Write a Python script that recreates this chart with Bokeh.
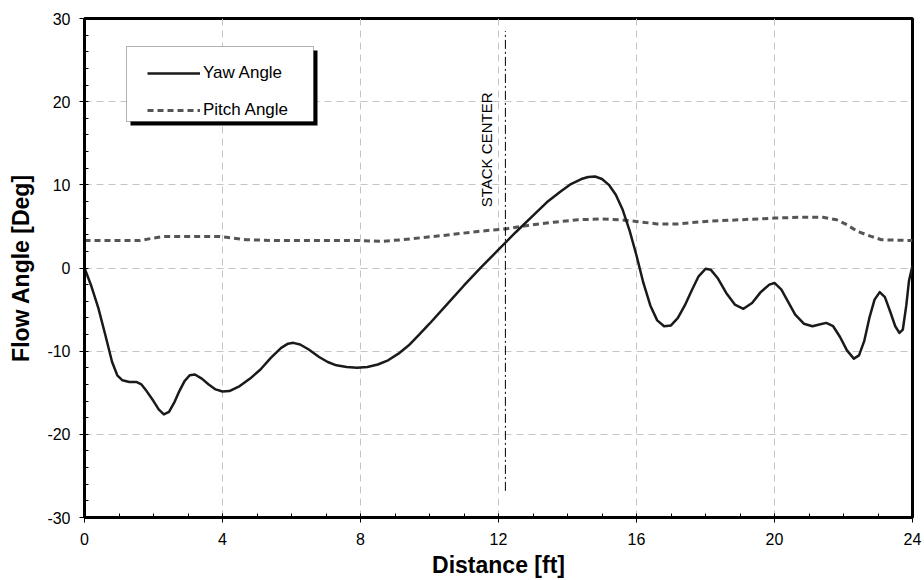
from bokeh.plotting import figure
from bokeh.models import (Range1d, SingleIntervalTicker, Legend, LegendItem,
                          BoxAnnotation, CustomJSTickFormatter)
from bokeh.embed import file_html
from bokeh.resources import INLINE
from bokeh.core.properties import value

# ---------------- data ----------------
yaw_x = [0.0, 0.2, 0.4, 0.6, 0.8, 0.95, 1.1, 1.3, 1.5, 1.65, 1.8, 2.0, 2.15,
         2.3, 2.45, 2.6, 2.75, 2.9, 3.05, 3.2, 3.4, 3.6, 3.8, 4.0, 4.2, 4.5,
         4.8, 5.1, 5.4, 5.7, 5.9, 6.05, 6.25, 6.5, 6.8, 7.05, 7.3, 7.6, 7.9,
         8.2, 8.5, 8.8, 9.1, 9.4, 9.7, 10.0, 10.5, 11.0, 11.5, 12.0, 12.5,
         13.0, 13.4, 13.8, 14.1, 14.4, 14.6, 14.8, 15.0, 15.2, 15.4, 15.6,
         15.8, 16.0, 16.2, 16.4, 16.6, 16.8, 17.0, 17.2, 17.4, 17.6, 17.8,
         18.0, 18.15, 18.35, 18.6, 18.85, 19.1, 19.35, 19.6, 19.85, 20.0,
         20.2, 20.4, 20.6, 20.85, 21.1, 21.3, 21.5, 21.7, 21.9, 22.1, 22.3,
         22.45, 22.6, 22.75, 22.9, 23.05, 23.2, 23.35, 23.5, 23.62, 23.72,
         23.82, 23.9, 24.0]
yaw_angle = [0.0, -2.2, -4.8, -8.0, -11.3, -12.9, -13.5, -13.7, -13.7, -14.0,
             -14.8, -16.0, -17.0, -17.6, -17.3, -16.2, -14.8, -13.6, -12.9,
             -12.8, -13.3, -14.0, -14.6, -14.85, -14.8, -14.2, -13.3, -12.2,
             -10.8, -9.6, -9.1, -9.0, -9.2, -9.8, -10.7, -11.3, -11.7, -11.9,
             -12.0, -11.9, -11.6, -11.1, -10.3, -9.3, -8.0, -6.7, -4.4, -2.1,
             0.1, 2.2, 4.3, 6.3, 7.9, 9.2, 10.1, 10.7, 10.95, 11.0, 10.7, 10.0,
             8.8, 7.0, 4.5, 1.5, -1.8, -4.5, -6.3, -7.0, -6.9, -6.0, -4.5,
             -2.7, -1.0, -0.1, -0.2, -1.2, -3.0, -4.4, -4.9, -4.2, -2.9, -2.0,
             -1.8, -2.6, -4.1, -5.6, -6.7, -7.0, -6.8, -6.6, -7.0, -8.3, -9.9,
             -10.9, -10.5, -8.8, -6.0, -3.8, -2.9, -3.5, -5.2, -7.0, -7.8,
             -7.4, -4.5, -1.5, 0.3]

pitch_x = [0, 1.0, 1.6, 2.0, 2.3, 3.0, 3.9, 4.3, 4.7, 5.5, 6.5, 7.5, 8.0, 8.6,
           9.2, 9.9, 10.6, 11.4, 12.2, 13.0, 13.6, 14.3, 15.0, 15.5, 16.0, 16.6,
           17.2, 18.0, 19.0, 20.0, 20.7, 21.4, 21.8, 22.1, 22.4, 22.8, 23.1, 24.0]
pitch_angle = [3.3, 3.3, 3.3, 3.6, 3.8, 3.8, 3.8, 3.6, 3.4, 3.3, 3.3, 3.3, 3.3,
               3.2, 3.4, 3.7, 4.0, 4.4, 4.7, 5.2, 5.5, 5.8, 5.9, 5.8, 5.6, 5.3,
               5.3, 5.6, 5.8, 6.0, 6.1, 6.1, 5.8, 5.2, 4.4, 3.8, 3.4, 3.3]

stack_center = 12.2
stack_label = "STACK CENTER"
series_names = ["Yaw Angle", "Pitch Angle"]
x_title = "Distance [ft]"
y_title = "Flow Angle [Deg]"

FONT = "Liberation Sans"

# ---------------- figure ----------------
p = figure(width=922, height=580, output_backend="svg", toolbar_location=None,
           x_range=Range1d(0, 24), y_range=Range1d(-30, 30),
           min_border_left=84, min_border_right=10, min_border_top=18,
           min_border_bottom=63)
p.background_fill_color = "white"
p.border_fill_color = "white"
p.outline_line_color = "black"
p.outline_line_width = 3

xt = SingleIntervalTicker(interval=4, num_minor_ticks=4)
yt = SingleIntervalTicker(interval=10, num_minor_ticks=5)
p.xaxis.ticker = xt
p.yaxis.ticker = yt
p.xgrid.ticker = xt
p.ygrid.ticker = yt

for g in (p.xgrid, p.ygrid):
    g.grid_line_color = "#c4c4c4"
    g.grid_line_dash = "7 5"
    g.grid_line_width = 1

fmt = CustomJSTickFormatter(code="return tick.toFixed(0);")
for ax in (p.xaxis, p.yaxis):
    ax.formatter = fmt
    ax.axis_line_width = 3
    ax.axis_line_color = "black"
    ax.major_tick_in = 0
    ax.major_tick_out = 5
    ax.minor_tick_in = 4
    ax.minor_tick_out = 0
    ax.major_tick_line_color = "black"
    ax.minor_tick_line_color = "black"
    ax.major_label_text_font = FONT
    ax.major_label_text_font_size = "16px"
    ax.major_label_text_color = "black"
    ax.axis_label_text_font = FONT
    ax.axis_label_text_font_style = "bold"
    ax.axis_label_text_font_size = "23px"
    ax.axis_label_text_color = "black"

p.xaxis.axis_label = x_title
p.yaxis.axis_label = y_title
p.xaxis.major_label_standoff = 10
p.yaxis.major_label_standoff = 9
p.xaxis.axis_label_standoff = 4
p.yaxis.axis_label_standoff = 10

# ---------------- data lines ----------------
r_pitch = p.line(pitch_x, pitch_angle, line_color="#555555", line_width=3,
                 line_dash="6 4")
r_yaw = p.line(yaw_x, yaw_angle, line_color="#1a1a1a", line_width=2.5,
               line_join="round")

# stack center marker
p.segment(x0=[stack_center], y0=[-26.8], x1=[stack_center], y1=[28.5],
          line_color="black", line_width=1, line_dash="9 3 2 3")
p.text(x=[stack_center - 0.55], y=[14.2], text=[stack_label], angle=1.5708,
       text_font=value(FONT), text_font_size="15px", text_color="black",
       text_align="center", text_baseline="middle")

# ---------------- legend box with shadow ----------------
def px2x(px):
    return (px - 84) / 34.5

def py2y(py):
    return 30 - (py - 18) / (499 / 60)

shadow = BoxAnnotation(left=px2x(130), right=px2x(317), top=py2y(50),
                       bottom=py2y(125), fill_color="black", fill_alpha=1,
                       line_alpha=0)
box = BoxAnnotation(left=px2x(126), right=px2x(313), top=py2y(46),
                    bottom=py2y(121), fill_color="white", fill_alpha=1,
                    line_color="black", line_width=1)
p.add_layout(shadow)
p.add_layout(box)

legend = Legend(items=[LegendItem(label=series_names[0], renderers=[r_yaw]),
                       LegendItem(label=series_names[1], renderers=[r_pitch])],
                location=(63, 397), padding=0, margin=0, spacing=17,
                glyph_width=53, glyph_height=20, label_height=20,
                label_standoff=3, background_fill_alpha=0,
                border_line_alpha=0, label_text_font=FONT,
                label_text_font_size="17px", label_text_color="black")
p.add_layout(legend)

open("out.html", "w").write(file_html(p, INLINE))
